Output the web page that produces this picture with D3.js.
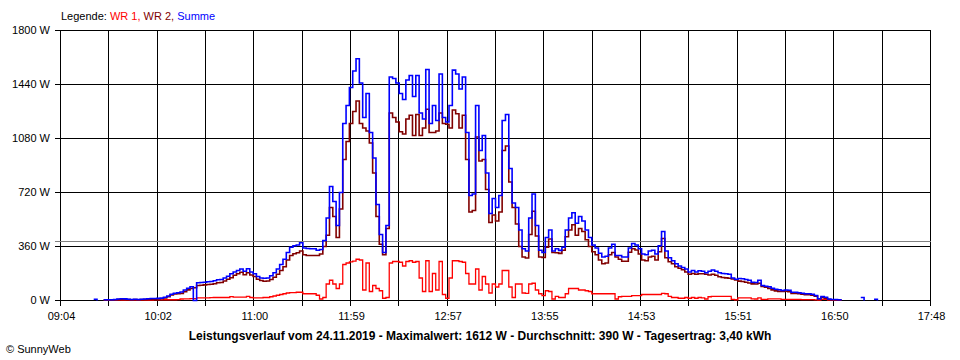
<!DOCTYPE html>
<html><head><meta charset="utf-8">
<script src="https://cdn.jsdelivr.net/npm/d3@7/dist/d3.min.js"></script>
<style>
body{margin:0;background:#fff}
svg{display:block}
text{font-family:"Liberation Sans",Arial,sans-serif;font-size:11px;fill:#000}
</style>
</head><body>
<svg id="chart" width="960" height="360"></svg>
<script>
// ---- data (W), one sample every 2 minutes starting 09:24 ----
const startTime = "09:24";
const stepMinutes = 2;
const summe = [8,0,null,5,5,5,7,10,12,11,8,7,8,7,8,10,12,13,13,14,
16,22,30,42,48,52,57,70,82,92,0,118,120,122,125,127,132,138,140,150,
162,178,190,200,210,195,212,190,178,160,150,148,150,165,185,210,240,275,320,355,
365,370,385,350,347,345,345,335,340,400,550,760,660,500,720,1180,1300,1420,1530,1612,
1450,1220,1380,1120,950,640,440,320,500,1490,1480,1450,1380,1340,1470,1500,1360,1500,1250,1210,
1540,1180,1300,1200,1510,1220,1190,1300,1536,1510,1410,1490,1120,700,710,1300,1000,1100,850,580,
680,620,700,1200,1240,880,650,620,470,345,330,550,710,500,335,320,420,470,330,345,
334,355,470,550,585,515,560,530,470,420,370,350,315,290,295,350,375,300,300,290,
290,350,380,370,345,310,305,330,335,310,365,460,330,285,265,245,230,220,210,190,
200,190,198,195,185,195,203,195,185,180,178,175,150,142,147,145,140,135,122,120,
135,100,95,92,82,75,72,67,70,68,55,55,52,48,45,45,42,33,12,27,
22,10,7,7,5,0,null,null,null,null,null,20,0,null,null,8,0];
const wr2 = [null,null,null,3,3,3,5,6,7,7,6,5,6,5,6,7,8,9,9,10,
12,17,25,37,43,46,47,59,71,80,85,100,102,104,107,108,112,118,120,130,
142,152,168,178,188,172,185,170,160,142,133,128,130,140,155,175,200,225,270,300,
312,318,330,305,300,300,300,300,310,360,435,620,560,420,610,940,1060,1180,1260,1330,
1180,1150,1130,1050,850,560,375,305,480,1250,1220,1190,1125,1110,1210,1235,1100,1240,1100,1150,
1275,1120,1120,1130,1250,1180,1175,1150,1270,1245,1150,1235,940,590,600,1090,930,940,740,520,
570,530,590,1000,1030,790,620,510,360,290,283,440,595,430,290,287,355,410,320,318,
314,335,425,470,505,435,480,460,405,360,325,305,270,245,250,305,320,290,275,262,
262,322,345,337,310,270,265,290,295,270,325,413,285,258,245,225,215,205,190,175,
180,175,178,178,175,170,175,168,158,153,151,148,143,137,129,127,122,117,111,110,
115,93,88,81,71,64,61,60,62,58,47,47,45,42,39,39,36,29,10,20,
15,7,5,5,3,0,null,null,null,null,null,null,null,null,null,null,null];
const wr1 = [null,null,null,2,2,2,2,2,2,2,2,2,2,2,2,3,3,3,4,4,
4,5,5,5,5,6,10,11,11,12,12,18,18,18,18,19,20,20,20,20,
20,26,22,22,22,23,27,20,18,18,17,20,20,25,30,35,40,45,50,52,
53,55,55,45,45,45,45,35,10,20,110,135,110,80,110,240,250,258,262,275,
270,70,250,60,100,80,65,15,20,250,260,260,255,230,260,265,255,260,150,60,
265,60,180,70,260,40,15,150,265,265,260,255,180,110,110,210,70,160,110,50,
110,90,110,200,200,90,20,110,110,50,47,110,115,70,45,33,65,60,10,27,
20,20,45,80,80,80,70,70,65,60,45,45,45,45,45,45,45,10,25,27,
27,28,33,33,33,40,40,40,40,40,40,47,45,27,20,20,15,15,20,15,
20,15,20,17,10,25,27,27,27,27,27,27,7,5,18,18,18,18,11,10,
18,7,7,11,11,11,11,7,7,7,7,7,7,6,6,6,6,4,2,7,
7,3,2,2,2,0,null,null,null,null,null,null,null,null,null,null,null];
const yTicks = [0, 360, 720, 1080, 1440, 1800];
const xTickLabels = ["09:04","10:02","11:00","11:59","12:57","13:55","14:53","15:51","16:50","17:48"];
const axisStart = "09:04", axisEnd = "17:48";
const average = 390;
const legendItems = [
  {text:"Legende: ", color:"#000000"},
  {text:"WR 1, ", color:"#ff0000"},
  {text:"WR 2, ", color:"#800000"},
  {text:"Summe", color:"#0000ff"}
];
const title = "Leistungsverlauf vom 24.11.2019 - Maximalwert: 1612 W - Durchschnitt: 390 W - Tagesertrag: 3,40 kWh";
const copyright = "© SunnyWeb";

// ---- drawing ----
const toMin = s => { const [h,m] = s.split(":").map(Number); return h*60+m; };
const svg = d3.select("#chart");
const x = d3.scaleLinear().domain([toMin(axisStart), toMin(axisEnd)]).range([60.5, 930.5]);
const y = d3.scaleLinear().domain([0, 1800]).range([300.5, 30.5]);
const t0 = toMin(startTime);
const times = summe.map((_, i) => t0 + i*stepMinutes);

const nGrid = (xTickLabels.length - 1) * 2;
const gridVals = d3.range(nGrid + 1).map(k => x.domain()[0] + k*(x.domain()[1]-x.domain()[0])/nGrid);

const g = svg.append("g").attr("shape-rendering","crispEdges");
g.selectAll(".vg").data(gridVals).join("line")
  .attr("x1", d => Math.round(x(d)-0.5)+0.5).attr("x2", d => Math.round(x(d)-0.5)+0.5)
  .attr("y1", y(1800)).attr("y2", y(0)+5)
  .attr("stroke","#000").attr("stroke-width",1);
g.selectAll(".hg").data(yTicks).join("line")
  .attr("x1", 55).attr("x2", x.range()[1])
  .attr("y1", d => y(d)).attr("y2", d => y(d))
  .attr("stroke","#000").attr("stroke-width",1);
g.append("line").attr("x1",55).attr("x2",x.range()[1])
  .attr("y1", Math.round(y(average)-0.5)+0.5).attr("y2", Math.round(y(average)-0.5)+0.5)
  .attr("stroke","#808080").attr("stroke-width",1);

svg.selectAll(".yl").data(yTicks).join("text")
  .attr("x", 50).attr("y", d => y(d)).attr("dy","0.35em")
  .attr("text-anchor","end").text(d => d + " W");
svg.selectAll(".xl").data(xTickLabels).join("text")
  .attr("x", (d,i) => x(gridVals[i*2]) + 1).attr("y", 320)
  .attr("text-anchor","middle").text(d => d);

const sg = svg.append("g");
function series(vals, color, w) {
  const pts = vals.map((v,i) => ({t: times[i], v}));
  const line = d3.line().defined(d => d.v != null)
    .x(d => x(d.t)).y(d => y(d.v)).curve(d3.curveStepAfter);
  sg.append("path").datum(pts).attr("d", line)
    .attr("fill","none").attr("stroke",color).attr("stroke-width",w)
    .attr("stroke-linejoin","miter");
}
series(wr1, "#ff0000", 1.3);
series(wr2, "#800000", 1.6);
series(summe, "#0000ff", 1.6);

const lg = svg.append("text").attr("x", 61).attr("y", 20);
legendItems.forEach(it => lg.append("tspan").style("fill", it.color).text(it.text));

svg.append("text").attr("x", 480).attr("y", 340).attr("text-anchor","middle")
  .style("font-weight","bold").style("font-size","12px").text(title);
svg.append("text").attr("x", 6).attr("y", 353).text(copyright);
</script>
</body></html>
